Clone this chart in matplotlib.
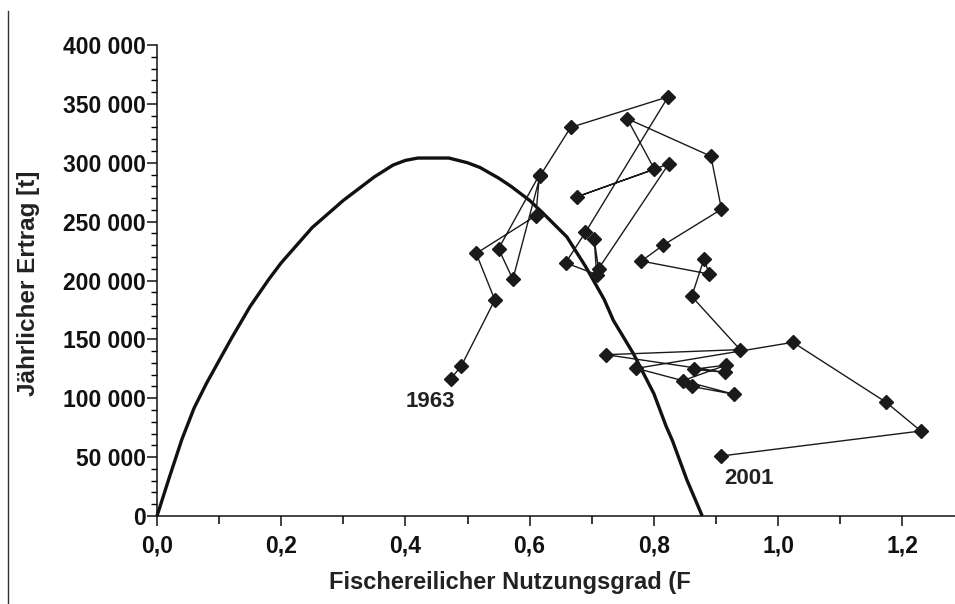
import matplotlib
matplotlib.use("Agg")
import matplotlib.pyplot as plt
from matplotlib.lines import Line2D
from matplotlib.ticker import MultipleLocator, FuncFormatter

plt.rcParams['font.family'] = ['Liberation Sans', 'DejaVu Sans']
plt.rcParams['font.weight'] = 'bold'

# equilibrium yield curve (F, yield in t)
curve_f = [0.0, 0.02, 0.04, 0.06, 0.08, 0.10, 0.12, 0.15, 0.18, 0.20, 0.25, 0.30,
           0.35, 0.38, 0.40, 0.42, 0.47, 0.50, 0.52, 0.55, 0.57, 0.60, 0.62, 0.66,
           0.69, 0.72, 0.735, 0.767, 0.80, 0.82, 0.83, 0.853, 0.878]
curve_y = [0, 33000, 65000, 92000, 113000, 132000, 151000, 178000, 201000, 215000,
           245000, 268000, 288000, 298000, 302000, 304000, 304000, 300000, 296000,
           287000, 280000, 268000, 258000, 237000, 212000, 184000, 166000, 138000,
           104000, 76000, 64000, 31000, 0]

# observed yearly trajectory, first point labelled 1963, last 2001
obs_f = [0.473, 0.490, 0.544, 0.514, 0.610, 0.616, 0.550, 0.573, 0.617, 0.666,
         0.823, 0.690, 0.658, 0.708, 0.704, 0.711, 0.824, 0.676, 0.801, 0.757,
         0.892, 0.909, 0.815, 0.780, 0.889, 0.881, 0.861, 0.939, 0.723, 0.915,
         0.864, 0.917, 0.847, 0.861, 0.929, 0.772, 1.024, 1.174, 1.230, 0.909]
obs_y = [116500, 127400, 183500, 223000, 255000, 290000, 227000, 201000, 289000, 330000,
         356000, 241000, 215000, 205000, 235000, 210000, 299000, 271000, 294500, 337500,
         305500, 260500, 230000, 216500, 205500, 218500, 186500, 141300, 137000, 122000,
         124600, 128200, 115000, 110000, 103400, 125400, 147500, 96600, 72200, 51000]

fig = plt.figure(figsize=(9.55, 6.04), dpi=100)
ax = fig.add_axes([157/955, 1 - 516/604, 1 - 157/955, (516 - 45)/604])

ax.plot(curve_f, curve_y, color='#111111', lw=2.4, solid_joinstyle='round',
        solid_capstyle='butt', clip_on=False)
ax.plot(obs_f, obs_y, color='#1a1a1a', lw=1.0, marker='D', markersize=7.5,
        markerfacecolor='#1a1a1a', markeredgecolor='#1a1a1a')

ax.text(0.441, 97000, "1963", fontsize=16, fontweight='bold', color='#222222',
        ha='center', va='center')
ax.text(0.953, 31500, "2001", fontsize=16, fontweight='bold', color='#222222',
        ha='center', va='center')

ax.set_xlim(0, 1.285)
ax.set_ylim(0, 400000)

ax.spines['top'].set_visible(False)
ax.spines['right'].set_visible(False)
for s in ['left', 'bottom']:
    ax.spines[s].set_linewidth(1.1)
    ax.spines[s].set_color('#111111')

ax.xaxis.set_major_locator(MultipleLocator(0.2))
ax.xaxis.set_minor_locator(MultipleLocator(0.1))
ax.yaxis.set_major_locator(MultipleLocator(50000))
ax.yaxis.set_minor_locator(MultipleLocator(10000))
ax.xaxis.set_major_formatter(FuncFormatter(lambda v, p: f"{v:.1f}".replace(".", ",")))
ax.yaxis.set_major_formatter(FuncFormatter(lambda v, p: f"{int(round(v)):,}".replace(",", " ")))

ax.tick_params(axis='x', which='major', direction='out', length=7, width=1.1,
               pad=6, labelsize=16.5, colors='#111111')
ax.tick_params(axis='x', which='minor', direction='out', length=6, width=1.1)
ax.tick_params(axis='y', which='major', direction='out', length=7, width=1.1,
               pad=1.0, labelsize=16.5, colors='#111111')
ax.tick_params(axis='y', which='minor', direction='out', length=4, width=1.0)
for lab in ax.get_xticklabels() + ax.get_yticklabels():
    lab.set_fontweight('bold')

fig.text(510/955, 1 - 583/604, "Fischereilicher Nutzungsgrad (F", fontsize=17,
         fontweight='bold', color='#222222', ha='center', va='center')
fig.text(28/955, 1 - 283/604, "Jährlicher Ertrag [t]", fontsize=17.5,
         fontweight='bold', color='#222222', ha='center', va='center', rotation=90)

# page border line on the left
fig.add_artist(Line2D([8/955, 8/955], [0, 1 - 11/604], color='#333333', lw=1.0))

fig.savefig("out.png", dpi=100)
